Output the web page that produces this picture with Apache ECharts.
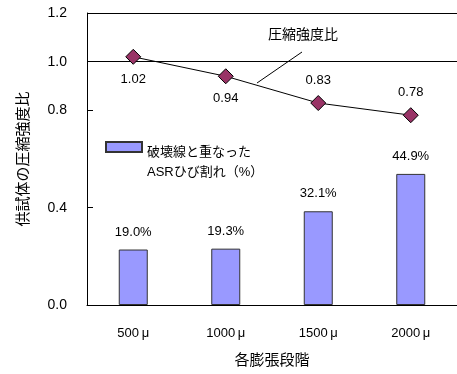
<!DOCTYPE html>
<html lang="ja" style="height: 100%">
    <head>
        <meta charset="utf-8">
        <title>圧縮強度比</title>
    </head>
    <body style="height: 100%; margin: 0">
        <div id="container" style="width: 457px; height: 374px"></div>
        <script src="https://cdn.jsdelivr.net/npm/echarts@6/dist/echarts.min.js"></script>
        <script>
            let categories = ["500\u2009μ", "1000\u2009μ", "1500\u2009μ", "2000\u2009μ"];
            let strengthRatio = [1.02, 0.94, 0.83, 0.78];
            let crackRate = [19.0, 19.3, 32.1, 44.9];
            let ratioLabelPos = ["bottom", "bottom", "top", "top"];
            let barName = "破壊線と重なった\nASRひび割れ（%）";
            let lineName = "圧縮強度比";

            let font = "'Liberation Sans', 'Noto Sans CJK JP', sans-serif";

            function drawChart() {
                let dom = document.getElementById("container");
                let chart = echarts.init(dom, null, { renderer: "canvas" });

                let lineData = [];
                for (let index = 0; index < strengthRatio.length; index++) {
                    lineData.push({
                        value: strengthRatio[index],
                        label: { position: ratioLabelPos[index] }
                    });
                }

                let option = {
                    animation: false,
                    textStyle: { fontFamily: font, color: "#000" },
                    grid: { left: 87, right: 0, top: 13, bottom: 69 },
                    legend: {
                        data: [{ name: barName, icon: "rect" }],
                        left: 100,
                        top: 107,
                        itemWidth: 36,
                        itemHeight: 10,
                        itemGap: 8,
                        formatter: function (name) {
                            let lines = name.split("\n");
                            return "{e| }\n{t|" + lines[0] + "}\n{t|" + lines[1] + "}";
                        },
                        textStyle: {
                            fontFamily: font,
                            fontSize: 13,
                            color: "#000",
                            rich: {
                                e: { height: 30, lineHeight: 30, fontSize: 13 },
                                t: { lineHeight: 20, fontSize: 13, fontFamily: font, color: "#000" }
                            }
                        }
                    },
                    xAxis: {
                        type: "category",
                        data: categories,
                        name: "各膨張段階",
                        nameLocation: "middle",
                        nameGap: 48,
                        nameTextStyle: { fontSize: 15, color: "#000", fontFamily: font },
                        axisLine: { lineStyle: { color: "#000" } },
                        axisTick: { inside: true, length: 6, lineStyle: { color: "#000" } },
                        axisLabel: { fontSize: 13, color: "#000", margin: 22, fontFamily: font }
                    },
                    yAxis: [
                        {
                            type: "value",
                            min: 0,
                            max: 1.2,
                            interval: 0.4,
                            name: "供試体の圧縮強度比",
                            nameLocation: "middle",
                            nameGap: 56,
                            nameTextStyle: { fontSize: 15, color: "#000", fontFamily: font },
                            axisLine: { show: true, lineStyle: { color: "#000" } },
                            axisTick: { show: true, inside: true, length: 6, lineStyle: { color: "#000" } },
                            axisLabel: {
                                fontSize: 14,
                                color: "#000",
                                margin: 20,
                                fontFamily: font,
                                formatter: function (v) { return v.toFixed(1); }
                            },
                            splitLine: { show: false }
                        },
                        {
                            type: "value",
                            min: 0,
                            max: 100,
                            show: false,
                            splitLine: { show: false }
                        }
                    ],
                    series: [
                        {
                            name: barName,
                            type: "bar",
                            yAxisIndex: 1,
                            data: crackRate,
                            barWidth: 29,
                            itemStyle: { color: "#9999ff", borderColor: "#333333", borderWidth: 1 },
                            label: {
                                show: true,
                                position: "top",
                                distance: 11,
                                fontSize: 13,
                                color: "#000",
                                fontFamily: font,
                                formatter: function (p) { return p.value.toFixed(1) + "%"; }
                            },
                            z: 2
                        },
                        {
                            name: lineName,
                            type: "line",
                            data: lineData,
                            symbol: "diamond",
                            symbolSize: 15,
                            lineStyle: { color: "#000", width: 1 },
                            itemStyle: { color: "#993366", borderColor: "#000", borderWidth: 1 },
                            label: {
                                show: true,
                                distance: 8,
                                fontSize: 13,
                                color: "#000",
                                fontFamily: font,
                                formatter: function (p) { return p.value.toFixed(2); }
                            },
                            markLine: {
                                silent: true,
                                symbol: "none",
                                lineStyle: { color: "#000", width: 1, type: "solid" },
                                data: [
                                    {
                                        yAxis: 1.0,
                                        label: {
                                            show: true,
                                            position: "start",
                                            distance: 20,
                                            formatter: "1.0",
                                            fontSize: 14,
                                            color: "#000",
                                            fontFamily: font
                                        }
                                    },
                                    { yAxis: 1.2, label: { show: false } }
                                ]
                            },
                            z: 5
                        }
                    ],
                    graphic: [
                        {
                            type: "text",
                            left: 268,
                            top: 28,
                            style: { text: lineName, fontSize: 14, fill: "#000", fontFamily: font }
                        },
                        {
                            type: "line",
                            shape: { x1: 302, y1: 52, x2: 257, y2: 83 },
                            style: { stroke: "#000", lineWidth: 1 }
                        }
                    ]
                };

                chart.setOption(option);
            }

            drawChart();
        </script>
    </body>
</html>
